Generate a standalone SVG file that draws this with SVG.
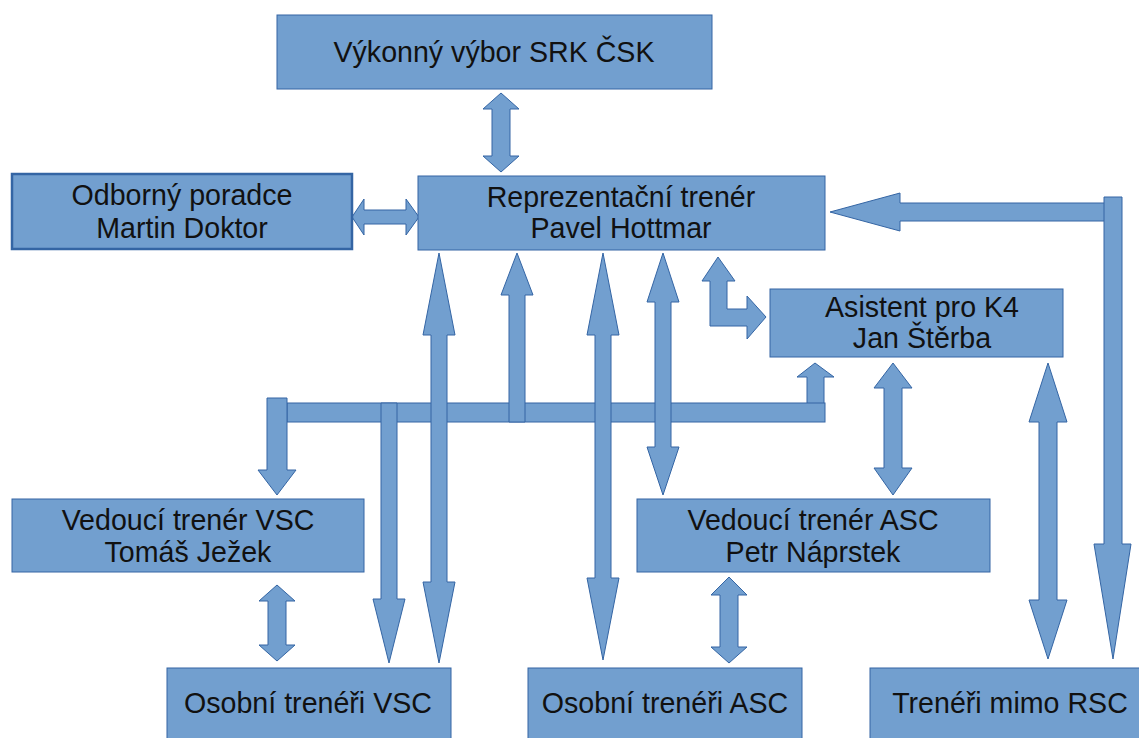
<svg xmlns="http://www.w3.org/2000/svg" width="1139" height="738" viewBox="0 0 1139 738">
<style>
.box{fill:#729fcf;stroke:#3465a4;stroke-width:1}
.box2{fill:#729fcf;stroke:#3465a4;stroke-width:2.5}
.arr{fill:#729fcf;stroke:#3465a4;stroke-width:1;stroke-linejoin:miter}
text{font-family:"Liberation Sans",Arial,sans-serif;font-size:28.6px;fill:#111111;text-anchor:middle}
</style>
<rect width="1139" height="738" fill="#ffffff"/>
<g id="connectors">
<polygon class="arr" points="501,93 519,109 510,109 510,156 519,156 501,172 483,156 492,156 492,109 483,109"/>
<polygon class="arr" points="352,217 364,199 364,210 406,210 406,199 419,217 406,235 406,224 364,224 364,235"/>
<polygon class="arr" points="718,257 735,281 727,281 727,309 747,309 747,296 766,317 747,339 747,326 710,326 710,281 702,281"/>
<polygon class="arr" points="815,363 834,377 824,377 824,412 807,412 807,377 797,377"/>
<rect class="arr" x="287" y="403" width="538" height="19"/>
<polygon class="arr" points="267,398 287,398 287,470 296,470 277,495 258,470 267,470"/>
<polygon class="arr" points="381,403 397,403 397,599 405,599 389,663 373,599 381,599"/>
<polygon class="arr" points="517,253 533,295 525,295 525,422 509,422 509,295 501,295"/>
<polygon class="arr" points="439,253 455,335 447,335 447,582 455,582 439,663 423,582 431,582 431,335 423,335"/>
<polygon class="arr" points="603,253 619,335 611,335 611,578 619,578 603,660 587,578 595,578 595,335 587,335"/>
<polygon class="arr" points="663,253 679,302 671,302 671,447 679,447 663,495 647,447 655,447 655,302 647,302"/>
<polygon class="arr" points="893,363 912,388 902,388 902,468 912,468 893,495 874,468 884,468 884,388 874,388"/>
<polygon class="arr" points="729,577 747,595 738,595 738,647 747,647 729,663 711,647 720,647 720,595 711,595"/>
<polygon class="arr" points="277,585 295,601 286,601 286,645 295,645 277,661 259,645 268,645 268,601 259,601"/>
<polygon class="arr" points="1048,363 1067,422 1057,422 1057,600 1067,600 1048,659 1029,600 1039,600 1039,422 1029,422"/>
<polygon class="arr" points="830,212 900,193 900,203 1106,203 1106,221 900,221 900,231"/>
<polygon class="arr" points="1104,197 1122,197 1122,544 1131,544 1113,659 1094,544 1104,544"/>
</g>
<g id="vykonny">
<rect class="box" x="277" y="15" width="435" height="74"/>
<text x="494" y="62">Výkonný výbor SRK ČSK</text>
</g>
<g id="odborny">
<rect class="box2" x="12" y="174" width="340" height="75"/>
<text x="182" y="205">Odborný poradce</text>
<text x="182" y="238">Martin Doktor</text>
</g>
<g id="reprezentacni">
<rect class="box" x="418" y="176" width="407" height="74"/>
<text x="621" y="207">Reprezentační trenér</text>
<text x="621" y="238">Pavel Hottmar</text>
</g>
<g id="asistent">
<rect class="box" x="770" y="289" width="293" height="68"/>
<text x="922" y="317">Asistent pro K4</text>
<text x="922" y="348">Jan Štěrba</text>
</g>
<g id="vedouci-vsc">
<rect class="box" x="12" y="499" width="352" height="73"/>
<text x="188" y="530">Vedoucí trenér VSC</text>
<text x="188" y="562">Tomáš Ježek</text>
</g>
<g id="vedouci-asc">
<rect class="box" x="637" y="499" width="353" height="73"/>
<text x="813" y="530">Vedoucí trenér ASC</text>
<text x="813" y="562">Petr Náprstek</text>
</g>
<g id="osobni-vsc">
<rect class="box" x="167" y="668" width="284" height="80"/>
<text x="308" y="713">Osobní trenéři VSC</text>
</g>
<g id="osobni-asc">
<rect class="box" x="528" y="668" width="274" height="80"/>
<text x="665" y="713">Osobní trenéři ASC</text>
</g>
<g id="treneri-mimo">
<rect class="box" x="870" y="668" width="290" height="80"/>
<text x="1010" y="713">Trenéři mimo RSC</text>
</g>
</svg>
